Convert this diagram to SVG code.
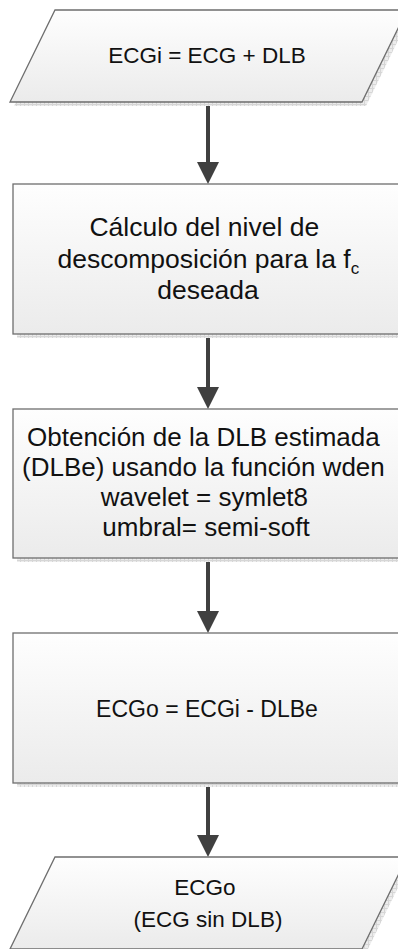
<svg xmlns="http://www.w3.org/2000/svg" width="398" height="949" viewBox="0 0 398 949">
  <defs>
    <linearGradient id="fillg" x1="0" y1="0" x2="0" y2="1">
      <stop offset="0" stop-color="#fefefe"/>
      <stop offset="1" stop-color="#ebebeb"/>
    </linearGradient>
    <pattern id="hatch" width="4" height="4" patternUnits="userSpaceOnUse">
      <rect width="4" height="4" fill="#ececec"/>
      <path d="M0,0.5 H4 M0.5,0 V4" stroke="#d6d6d6" stroke-width="1"/>
    </pattern>
    <marker id="arr" markerUnits="userSpaceOnUse" markerWidth="22" markerHeight="22" viewBox="0 0 22 22" refX="12" refY="11" orient="auto">
      <path d="M0,0 L22,11 L0,22 z" fill="#404040"/>
    </marker>
  </defs>
  <style>
    .shape { fill: url(#fillg); stroke: #6e6e6e; stroke-width: 1.3; }
    .shadow { fill: url(#hatch); stroke: none; }
    .lbl { font-family: "Liberation Sans", Arial, sans-serif; fill: #111; text-anchor: middle; }
    .conn { stroke: #404040; stroke-width: 4; fill: none; marker-end: url(#arr); }
  </style>

  <g id="connectors">
    <line class="conn" x1="208" y1="102" x2="208" y2="174"/>
    <line class="conn" x1="208" y1="334" x2="208" y2="399"/>
    <line class="conn" x1="208" y1="558" x2="208" y2="623"/>
    <line class="conn" x1="208" y1="783" x2="208" y2="847"/>
  </g>

  <g id="n1">
    <polygon class="shadow" points="59,14 411,14 366,106 14,106"/>
    <polygon class="shape" points="55,10 407,10 362,102 10,102"/>
    <text class="lbl" x="207" y="63" font-size="22.5">ECGi = ECG + DLB</text>
  </g>

  <g id="n2">
    <rect class="shadow" x="17" y="188" width="400" height="150"/>
    <rect class="shape" x="13" y="184" width="400" height="150"/>
    <text class="lbl" font-size="26.5">
      <tspan x="208" y="236">Cálculo del nivel de</tspan>
      <tspan x="212" y="268">descomposición para la f<tspan font-size="17" dy="6">c</tspan></tspan>
      <tspan x="208" y="299">deseada</tspan>
    </text>
  </g>

  <g id="n3">
    <rect class="shadow" x="17" y="413" width="400" height="149"/>
    <rect class="shape" x="13" y="409" width="400" height="149"/>
    <text class="lbl" font-size="26">
      <tspan x="207" y="446">Obtención de la DLB estimada</tspan>
      <tspan x="207" y="476">(DLBe) usando la función wden</tspan>
      <tspan x="208" y="506">wavelet = symlet8</tspan>
      <tspan x="206" y="536">umbral= semi-soft</tspan>
    </text>
  </g>

  <g id="n4">
    <rect class="shadow" x="17" y="637" width="400" height="150"/>
    <rect class="shape" x="13" y="633" width="400" height="150"/>
    <text class="lbl" x="207" y="717" font-size="23">ECGo = ECGi - DLBe</text>
  </g>

  <g id="n5">
    <polygon class="shadow" points="59,861 411,861 366,953 14,953"/>
    <polygon class="shape" points="55,857 407,857 362,949 10,949"/>
    <text class="lbl" font-size="22.5">
      <tspan x="208" y="895">ECGo</tspan>
      <tspan x="208" y="927">(ECG sin DLB)</tspan>
    </text>
  </g>
</svg>
